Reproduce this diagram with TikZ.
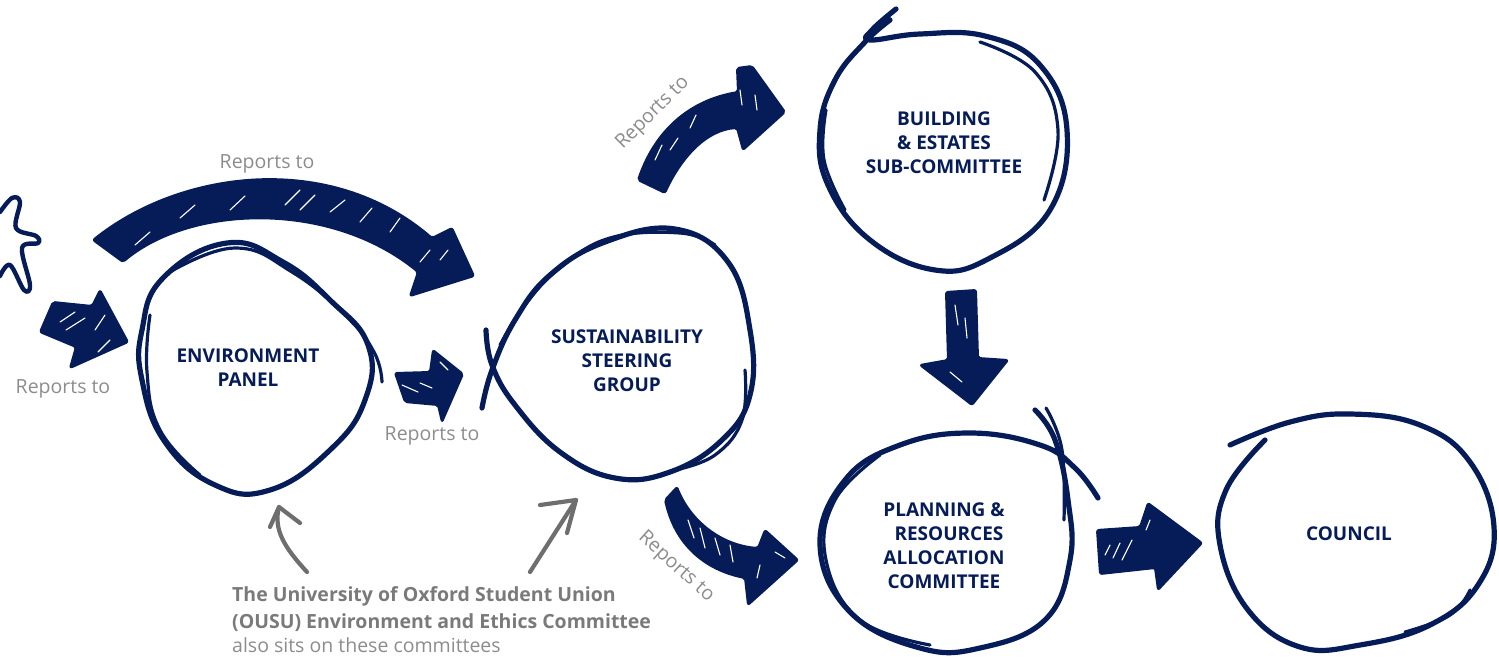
\documentclass[tikz,border=0pt]{standalone}
\usepackage{fontspec}
\setmainfont{Open Sans}
\definecolor{navy}{RGB}{6,28,88}
\definecolor{repgray}{RGB}{140,140,140}
\definecolor{ousugray}{RGB}{122,122,122}
\definecolor{arrgray}{RGB}{110,110,110}
\begin{document}
\begin{tikzpicture}[x=1pt,y=-1pt,
  ring/.style={draw=navy,line width=5.2pt,line cap=round,line join=round},
  ringthin/.style={draw=navy,line width=3.2pt,line cap=round,line join=round},
  fatarrow/.style={fill=navy,draw=navy,line width=2pt,line join=round,rounded corners=2pt},
  hatch/.style={draw=white,line width=1.1pt,line cap=round},
  lbl/.style={text=navy,font=\bfseries\fontsize{19}{24}\selectfont,align=center},
  rep/.style={text=repgray,font=\fontsize{19.5}{23}\selectfont},
  ousu/.style={text=ousugray,font=\bfseries\fontsize{19.5}{23}\selectfont,anchor=base west,inner sep=0pt},
  garrow/.style={draw=arrgray,line width=4.2pt,line cap=round,line join=round}]
\useasboundingbox (0,0) rectangle (1499,657);

% ---------- hand-drawn rings ----------
% Environment panel
\draw[ring] plot[smooth cycle,tension=0.75] coordinates {(227,243) (283,262) (330,300) (368,345) (365,400) (330,450) (270,490) (215,485) (165,442) (142,380) (142,330) (163,278)};
\draw[ringthin] plot[smooth,tension=0.75] coordinates {(170,272) (235,248) (292,272) (345,315) (374,352) (382,382)};
\draw[ringthin] plot[smooth,tension=0.75] coordinates {(150,315) (147,372) (160,430) (200,475)};
% Sustainability steering group
\draw[ring] plot[smooth,tension=0.7] coordinates {(482,408) (492,370) (515,320) (550,275) (605,242) (675,229) (728,262) (750,330) (750,395) (722,440) (670,472) (615,478) (560,452) (515,405) (492,365) (486,330)};
\draw[ringthin] plot[smooth,tension=0.7] coordinates {(500,345) (525,305) (560,268) (610,238) (680,233) (715,245)};
\draw[ringthin] plot[smooth,tension=0.7] coordinates {(745,370) (742,420) (715,455) (675,470)};
% Building & estates
\draw[ring] plot[smooth,tension=0.7] coordinates {(896,9) (872,30) (870,40) (920,34) (985,36) (1040,65) (1067,130) (1050,210) (990,258) (935,270) (870,240) (828,185) (820,130) (835,80) (865,42) (890,20)};
\draw[ringthin] plot[smooth,tension=0.7] coordinates {(980,42) (1035,72) (1058,130) (1044,200)};
\draw[ringthin] plot[smooth,tension=0.7] coordinates {(826,110) (824,160) (845,210)};
% Planning & resources
\draw[ring] plot[smooth,tension=0.7] coordinates {(1035,410) (1055,440) (1068,500) (1070,560) (1045,620) (980,648) (920,648) (850,612) (820,545) (845,480) (900,445) (970,433) (1040,445) (1075,468) (1098,498)};
\draw[ringthin] plot[smooth,tension=0.7] coordinates {(1046,408) (1062,450) (1064,520)};
\draw[ringthin] plot[smooth,tension=0.7] coordinates {(880,455) (835,500) (826,560) (860,620) (930,645)};
% Council
\draw[ring] plot[smooth,tension=0.7] coordinates {(1230,445) (1290,422) (1350,414) (1420,425) (1470,462) (1494,527) (1478,585) (1430,625) (1360,645) (1300,647) (1248,610) (1220,545) (1226,490) (1265,440)};
\draw[ringthin] plot[smooth,tension=0.7] coordinates {(1405,632) (1450,615) (1470,590)};

% ---------- labels ----------
\node[lbl] (env) at (248,368) {ENVIRONMENT\\PANEL};
\node[lbl] (ssg) at (627,361) {SUSTAINABILITY\\STEERING\\GROUP};
\node[lbl] (bes) at (944,143) {BUILDING\\\& ESTATES\\SUB-COMMITTEE};
\node[lbl] (prac) at (944,546) {PLANNING \&\\\ \ RESOURCES\\ALLOCATION\\COMMITTEE};
\node[lbl] (council) at (1349,534) {COUNCIL};

% ---------- fat arrows ----------
% from the left into environment panel
\path[fatarrow] (53,302) -- (92,306) -- (100,290) -- (128,342) -- (70,368) -- (76,347) -- (40,332) -- cycle;
\draw[hatch] (60,322) -- (75,312) (66,330) -- (85,318) (95,330) -- (105,315) (98,352) -- (110,340);
% big arc: environment panel over to steering group
\path[fatarrow] (93,240) .. controls (180,170) and (330,150) .. (432,238) -- (452,228) -- (474,276) -- (410,296) -- (418,272) .. controls (330,200) and (190,205) .. (123,262) -- cycle;
\draw[hatch] (135,245) -- (150,232) (180,218) -- (195,205) (230,210) -- (245,196) (285,205) -- (300,190) (300,210) -- (315,195) (330,212) -- (345,200) (360,222) -- (372,208) (390,232) -- (400,218) (420,262) -- (430,250) (440,260) -- (448,250);
% environment panel -> steering group
\path[fatarrow] (395,373) -- (430,372) -- (433,350) -- (463,374) -- (442,422) -- (438,405) -- (405,402) -- cycle;
\draw[hatch] (402,385) -- (418,392) (420,383) -- (432,388) (440,362) -- (448,370);
% steering group -> building & estates
\path[fatarrow] (638,180) .. controls (655,130) and (690,100) .. (738,92) -- (737,68) -- (752,66) -- (785,112) -- (743,150) -- (737,128) .. controls (705,130) and (680,160) .. (665,193) -- cycle;
\draw[hatch] (655,160) -- (662,145) (670,150) -- (678,138) (690,128) -- (696,115) (740,90) -- (742,105) (755,95) -- (757,110);
% building & estates -> planning
\path[fatarrow] (946,292) -- (976,290) -- (978,358) -- (1008,360) -- (972,405) -- (920,365) -- (948,360) -- cycle;
\draw[hatch] (955,305) -- (958,325) (965,318) -- (967,338) (950,372) -- (962,382);
% steering group -> planning
\path[fatarrow] (677,487) .. controls (690,520) and (720,545) .. (758,548) -- (765,530) -- (798,560) -- (748,605) -- (745,578) .. controls (705,570) and (675,545) .. (665,500) -- cycle;
\draw[hatch] (688,520) -- (694,538) (700,528) -- (705,548) (715,538) -- (720,555) (730,545) -- (733,562) (775,552) -- (785,558) (760,565) -- (757,578);
% planning -> council
\path[fatarrow] (1097,530) -- (1140,527) -- (1148,503) -- (1202,543) -- (1158,590) -- (1155,568) -- (1100,574) -- cycle;
\draw[hatch] (1105,555) -- (1110,545) (1113,558) -- (1120,543) (1122,560) -- (1132,540) (1150,520) -- (1146,530);

% left figure (cut off)
\draw[draw=navy,line width=4.4pt,line cap=round,line join=round] plot[smooth,tension=0.6] coordinates {(0,212) (12,198) (20,202) (16,228) (36,236) (38,243) (22,248) (30,285) (24,290) (10,265) (0,276)};

% ---------- "Reports to" labels ----------
\node[rep] (r1) at (267,164) {Reports to};
\node[rep] (r2) at (63,389) {Reports to};
\node[rep] (r3) at (432,436) {Reports to};
\node[rep,rotate=45] (r4) at (653,113) {Reports to};
\node[rep,rotate=-42] (r5) at (676,567) {Reports to};

% ---------- OUSU note ----------
\node[ousu] (ousu1) at (232,601) {The University of Oxford Student Union};
\node[ousu] (ousu2) at (232,628) {(OUSU) Environment and Ethics Committee};
\node[ousu,font=\fontsize{19.5}{23}\selectfont,text=repgray] (ousu3) at (232,652) {also sits on these committees};

\coordinate (ga0) at (307,572);
\coordinate (ga1) at (279,507);
\coordinate (gb0) at (530,572);
\coordinate (gb1) at (576,500);
\draw[garrow] (ga0) .. controls (285,548) and (273,530) .. (ga1);
\draw[garrow] (270,527) -- (ga1) -- (300,523);
\draw[garrow] (gb0) -- (gb1);
\draw[garrow] (540,505) -- (gb1) -- (567,533);
\end{tikzpicture}
\end{document}
